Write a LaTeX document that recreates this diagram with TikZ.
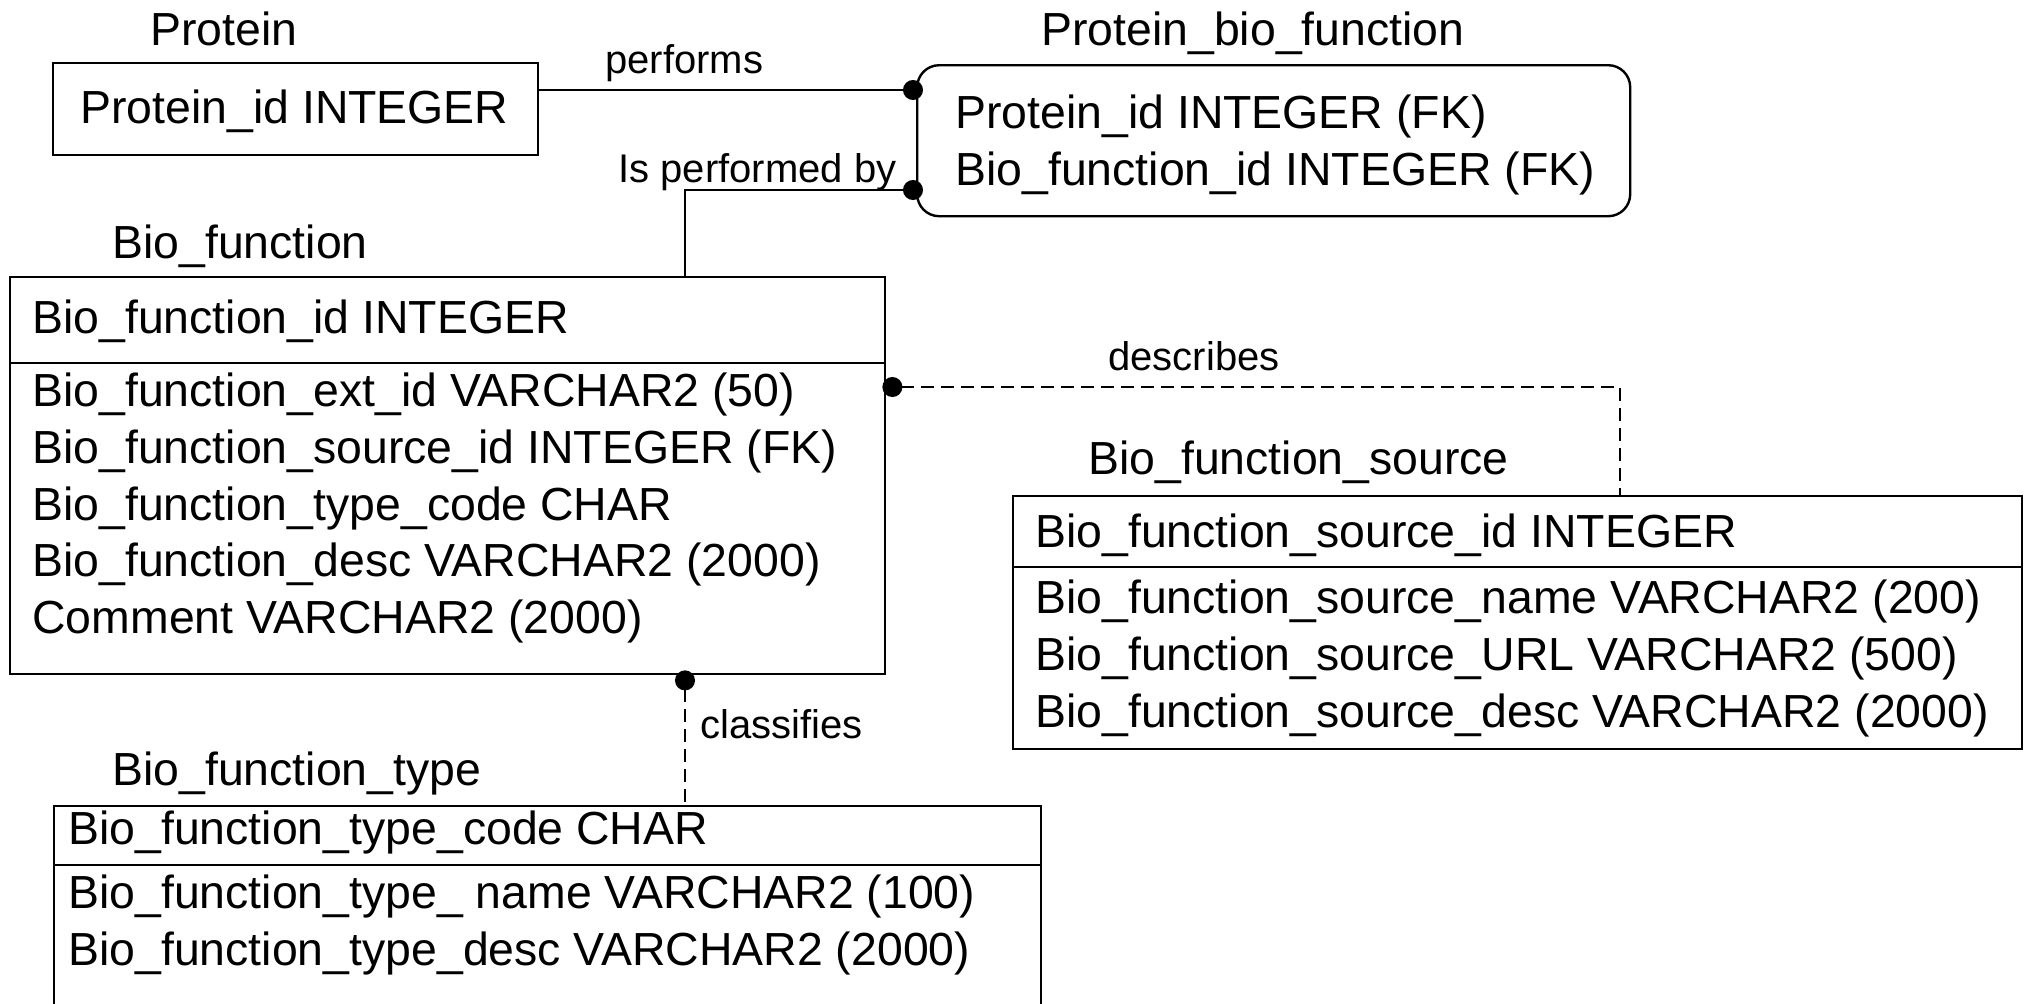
\documentclass[tikz,border=0pt]{standalone}
\usepackage{fontspec}
\setmainfont{Liberation Sans}
\usepackage{tikz}
\usetikzlibrary{arrows.meta}

\begin{document}
\begin{tikzpicture}
        [
            x = 0.5pt, y = -0.5pt,
            > = {Circle[length=10pt]},
            table/.style = {rectangle, draw=black, line width=1.2pt, inner sep=0pt, anchor=north west},
            field/.style = {anchor=base west, inner sep=0pt, font=\fontsize{23.2}{28}\selectfont},
            label/.style = {anchor=base west, inner sep=0pt, font=\fontsize{20}{24}\selectfont},
            rel/.style = {line width=1pt, shorten >=-3.5pt},
            optrel/.style = {line width=1pt, dash pattern=on 6.5pt off 3.5pt}
        ]
        \useasboundingbox (0, 0) rectangle (2026, 1003);

        % tables
        \node [table, minimum width=242.5pt, minimum height=46pt] at (52, 62) (protein) {};
        \node [table, rounded corners=11pt, minimum width=356.5pt, minimum height=75.5pt] at (916, 64) (protbio) {};
        \node [table, minimum width=437.5pt, minimum height=198.5pt] at (9, 276) (biofunc) {};
        \node [table, minimum width=504.5pt, minimum height=126.5pt] at (1012, 495) (biosource) {};
        \node [table, minimum width=493.5pt, minimum height=125pt] at (53, 805) (biotype) {};

        \draw [line width=1.2pt] (biofunc.west |- 0, 363) -- (biofunc.east |- 0, 363);
        \draw [line width=1.2pt] (biosource.west |- 0, 567) -- (biosource.east |- 0, 567);
        \draw [line width=1.2pt] (biotype.west |- 0, 865) -- (biotype.east |- 0, 865);

        % titles
        \node [field] at (150, 45) (proteinname) {Protein};
        \node [field] at (1041, 45) (protbioname) {Protein\_bio\_function};
        \node [field] at (112, 258) (biofuncname) {Bio\_function};
        \node [field] at (1088, 474) (biosourcename) {Bio\_function\_source};
        \node [field] at (112, 785) (biotypename) {Bio\_function\_type};

        % fields
        \node [field] at (80, 123) (protein1) {Protein\_id INTEGER};

        \node [field] at (955, 128) (protbio1) {Protein\_id INTEGER (FK)};
        \node [field] at (955, 185) (protbio2) {Bio\_function\_id INTEGER (FK)};

        \node [field] at (32, 333) (biofunc0) {Bio\_function\_id INTEGER};
        \foreach \i/\txt in {1/Bio\_function\_ext\_id VARCHAR2 (50),
                             2/Bio\_function\_source\_id INTEGER (FK),
                             3/Bio\_function\_type\_code CHAR,
                             4/Bio\_function\_desc VARCHAR2 (2000),
                             5/Comment VARCHAR2 (2000)}
            \node [field] at (32, 350 + 56.7*\i) (biofunc\i) {\txt};

        \node [field] at (1035, 547) (biosource0) {Bio\_function\_source\_id INTEGER};
        \foreach \i/\txt in {1/Bio\_function\_source\_name VARCHAR2 (200),
                             2/Bio\_function\_source\_URL VARCHAR2 (500),
                             3/Bio\_function\_source\_desc VARCHAR2 (2000)}
            \node [field] at (1035, 556 + 57*\i) (biosource\i) {\txt};

        \node [field] at (68, 844) (biotype0) {Bio\_function\_type\_code CHAR};
        \node [field] at (68, 908) (biotype1) {Bio\_function\_type\_ name VARCHAR2 (100)};
        \node [field] at (68, 965) (biotype2) {Bio\_function\_type\_desc VARCHAR2 (2000)};

        % relationships
        \draw [rel, ->] (protein.east |- 0, 90) -- (protbio.west |- 0, 90);
        \node [label] at (605, 73) (performs) {performs};

        \draw [rel, ->] (685, 0 |- biofunc.north) |- (protbio.west |- 0, 190);
        \node [label] at (618, 182) (performedby) {Is performed by};

        \draw [optrel, <-, shorten <=-2pt] (biofunc.east |- 0, 387) -| (1620, 0 |- biosource.north);
        \node [label] at (1108, 370) (describes) {describes};

        \draw [optrel, <-, shorten <=-2.5pt] (685, 0 |- biofunc.south) -- (685, 0 |- biotype.north);
        \node [label] at (700, 738) (classifies) {classifies};
    \end{tikzpicture}
\end{document}
